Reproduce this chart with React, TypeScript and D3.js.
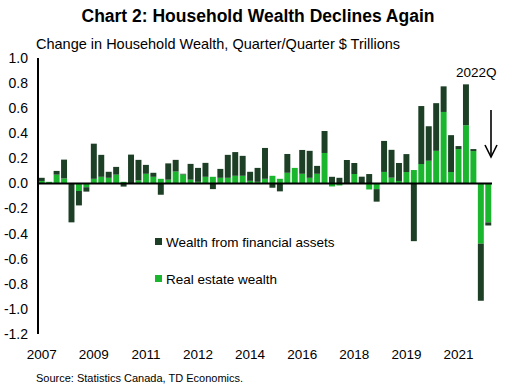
import React from 'react';
import * as d3 from 'd3';

// quarters, 2007Q3 .. 2022Q3
const quarters = [
  '2007Q3', '2007Q4',
  '2008Q1', '2008Q2', '2008Q3', '2008Q4',
  '2009Q1', '2009Q2', '2009Q3', '2009Q4',
  '2010Q1', '2010Q2', '2010Q3', '2010Q4',
  '2011Q1', '2011Q2', '2011Q3', '2011Q4',
  '2012Q1', '2012Q2', '2012Q3', '2012Q4',
  '2013Q1', '2013Q2', '2013Q3', '2013Q4',
  '2014Q1', '2014Q2', '2014Q3', '2014Q4',
  '2015Q1', '2015Q2', '2015Q3', '2015Q4',
  '2016Q1', '2016Q2', '2016Q3', '2016Q4',
  '2017Q1', '2017Q2', '2017Q3', '2017Q4',
  '2018Q1', '2018Q2', '2018Q3', '2018Q4',
  '2019Q1', '2019Q2', '2019Q3', '2019Q4',
  '2020Q1', '2020Q2', '2020Q3', '2020Q4',
  '2021Q1', '2021Q2', '2021Q3', '2021Q4',
  '2022Q1', '2022Q2', '2022Q3',
];

// Wealth from financial assets ($ trillions, q/q change)
const financial = [
  0.025, 0, 0.03, 0.15, -0.31, -0.115, -0.035, 0.28, 0.175, 0.048,
  0.062, -0.025, 0.23, 0.164, 0.071, 0.032, -0.09, 0.13, 0.093, 0.005,
  0.126, 0.111, 0.111, -0.045, 0.071, 0.183, 0.189, 0.159, 0.072, 0.111,
  0.246, -0.034, -0.063, 0.15, 0, 0.19, 0.215, 0.063, 0.175, 0.053,
  0.045, 0.187, 0.088, 0.054, 0.075, -0.1, 0.247, 0.222, 0.143, 0.143,
  -0.46, 0.462, 0.275, 0.38, 0.204, 0.294, 0.024, 0.326, 0.016, -0.455,
  -0.025,
];

// Real estate wealth
const realEstate = [
  0.02, 0.013, 0.07, 0.04, 0, -0.06, -0.03, 0.037, 0.053, 0.045,
  0.07, 0.013, 0, 0.024, 0.077, 0.053, 0.037, 0.03, 0.095, 0.072,
  0.03, 0.013, 0.053, 0.053, 0.045, 0.045, 0.061, 0.061, 0.021, 0.013,
  0.037, 0.061, 0.037, 0.085, 0.124, 0.077, 0.045, 0.077, 0.243, -0.024,
  -0.016, 0, 0.075, 0, -0.048, -0.045, 0.092, 0.046, 0.02, 0.091,
  0.107, 0.155, 0.181, 0.26, 0.57, 0.091, 0.274, 0.464, 0.258, -0.48,
  -0.31,
];

const yTicks = [1.0, 0.8, 0.6, 0.4, 0.2, 0.0, -0.2, -0.4, -0.6, -0.8, -1.0, -1.2];
const xTickQuarters = ['2007Q3', '2009Q2', '2011Q1', '2012Q4', '2014Q3', '2016Q2', '2018Q1', '2019Q4', '2021Q3'];

const DARK = '#1c3f25';
const LIGHT = '#19b62e';
const FONT = 'Arial, "Liberation Sans", sans-serif';

const App: React.FC = () => {
  const width = 515;
  const height = 385;
  const left = 38;
  const right = 492;
  const top = 58;
  const bottom = 334;

  const x = d3.scaleBand<string>()
    .domain(quarters)
    .range([left, right])
    .paddingInner(0.2)
    .paddingOuter(0.1);

  const y = d3.scaleLinear()
    .domain([-1.2, 1.0])
    .range([bottom, top]);

  const rows = quarters.map((q, i) => ({ q, realEstate: realEstate[i], financial: financial[i] }));
  const series = d3.stack<any>()
    .keys(['realEstate', 'financial'])
    .offset(d3.stackOffsetDiverging)(rows);

  const colors: Record<string, string> = { realEstate: LIGHT, financial: DARK };

  return (
    <svg width={width} height={height} style={{ position: 'absolute', left: 0, top: 0, background: '#fff' }}
      fontFamily={FONT}>
      <text x={258} y={22} textAnchor="middle" fontSize={17.5} fontWeight="bold" fill="#000">
        Chart 2: Household Wealth Declines Again
      </text>
      <text x={36} y={49} fontSize={14.5} fill="#000">
        Change in Household Wealth, Quarter/Quarter $ Trillions
      </text>

      {/* bars */}
      {series.map(s => (
        <g key={s.key} fill={colors[s.key]}>
          {s.map((d, i) => (
            <rect key={i}
              x={x(quarters[i])!}
              width={x.bandwidth()}
              y={y(Math.max(d[0], d[1]))}
              height={Math.abs(y(d[0]) - y(d[1]))} />
          ))}
        </g>
      ))}

      {/* y axis */}
      <line x1={left} x2={left} y1={top} y2={bottom} stroke="#000" strokeWidth={2} />
      {yTicks.map(t => (
        <text key={t} x={28} y={y(t)} dy="0.35em" textAnchor="end" fontSize={14} fill="#000">
          {d3.format('.1f')(t).replace('−', '-')}
        </text>
      ))}

      {/* zero line */}
      <line x1={left} x2={right} y1={y(0)} y2={y(0)} stroke="#000" strokeWidth={2} />

      {/* x labels */}
      {xTickQuarters.map(q => (
        <text key={q} x={x(q)! + x.bandwidth() / 2} y={359} textAnchor="middle" fontSize={13.5} fill="#000">
          {q.slice(0, 4)}
        </text>
      ))}

      {/* legend */}
      <rect x={155} y={238} width={7} height={7} fill={DARK} />
      <text x={166} y={247} fontSize={13.5} fill="#000">Wealth from financial assets</text>
      <rect x={155} y={275} width={7} height={7} fill={LIGHT} />
      <text x={166} y={284} fontSize={13.5} fill="#000">Real estate wealth</text>

      {/* annotation */}
      <text x={456} y={77} fontSize={13.5} fill="#000">2022Q</text>
      <line x1={491} x2={491} y1={110} y2={157} stroke="#000" strokeWidth={1.6} />
      <polyline points="485,145 491,157 497,145" fill="none" stroke="#000" strokeWidth={1.6} />

      <text x={36} y={382} fontSize={11} fill="#000">Source: Statistics Canada, TD Economics.</text>
    </svg>
  );
};

export default App;
